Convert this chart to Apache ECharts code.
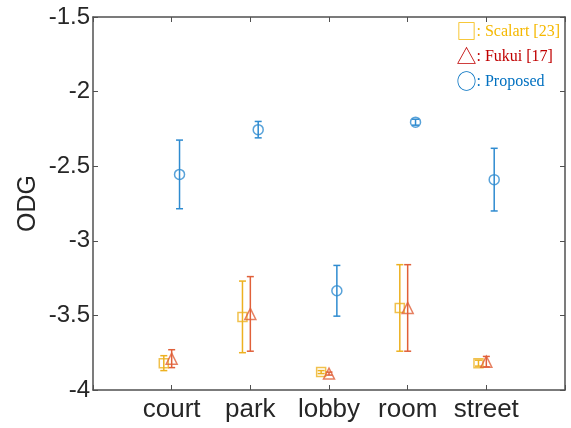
<!DOCTYPE html>
<html>
<head>
<meta charset="utf-8">
<script src="https://cdn.jsdelivr.net/npm/echarts@6/dist/echarts.min.js"></script>
<style>
  html, body { margin: 0; padding: 0; background: #fff; }
  #chart { width: 571px; height: 428px; }
</style>
</head>
<body>
<div id="chart"></div>
<script>
// scenes on the x axis
const scenes = ['court', 'park', 'lobby', 'room', 'street'];
const yTicks = [-4, -3.5, -3, -2.5, -2, -1.5];

// mean ODG and half-width of the error bar, per method
const scalartMean = [-3.82, -3.51, -3.88, -3.45, -3.82];
const scalartErr  = [0.05, 0.24, 0.01, 0.29, 0.02];
const fukuiMean   = [-3.79, -3.49, -3.89, -3.45, -3.81];
const fukuiErr    = [0.06, 0.25, 0.01, 0.29, 0.035];
const propMean    = [-2.555, -2.255, -3.335, -2.205, -2.59];
const propErr     = [0.23, 0.055, 0.17, 0.02, 0.21];

const yellow = '#EDB120';
const red = '#E0603A';
const blue = '#2E8BD0';

// 把每个方法拆成 散点 + 误差棒
const methods = [
    { name: 'Scalart', mean: scalartMean, err: scalartErr, off: -0.1, color: yellow, symbol: 'rect', size: 9 },
    { name: 'Fukui', mean: fukuiMean, err: fukuiErr, off: 0, color: red, symbol: 'triangle', size: 11 },
    { name: 'Proposed', mean: propMean, err: propErr, off: 0.1, color: blue, symbol: 'circle', size: 10 }
];

const series = [];
methods.forEach(m => {
    const bars = m.mean.map((v, i) => [i + 1 + m.off, v - m.err[i], v + m.err[i]]);
    series.push({
        name: m.name + '-err',
        type: 'custom',
        data: bars,
        renderItem: function (params, api) {
            const x = api.value(0);
            const lo = api.coord([x, api.value(1)]);
            const hi = api.coord([x, api.value(2)]);
            const cw = 3.5;
            const style = { stroke: m.color, lineWidth: 1.5, fill: 'none' };
            return {
                type: 'group',
                children: [
                    { type: 'line', shape: { x1: lo[0], y1: lo[1], x2: hi[0], y2: hi[1] }, style: style },
                    { type: 'line', shape: { x1: lo[0] - cw, y1: lo[1], x2: lo[0] + cw, y2: lo[1] }, style: style },
                    { type: 'line', shape: { x1: hi[0] - cw, y1: hi[1], x2: hi[0] + cw, y2: hi[1] }, style: style }
                ]
            };
        },
        z: 2
    });
    series.push({
        name: m.name,
        type: 'scatter',
        data: m.mean.map((v, i) => [i + 1 + m.off, v]),
        symbol: m.symbol,
        symbolSize: m.size,
        itemStyle: { color: 'rgba(255,255,255,0)', borderColor: m.color, borderWidth: 1.5 },
        z: 3
    });
});

const axisCol = '#505050';
const labelCol = '#262626';

const option = {
    animation: false,
    backgroundColor: '#fff',
    grid: { left: 93, right: 6, top: 17, bottom: 38, containLabel: false, outerBoundsMode: 'none' },
    xAxis: [
        {
            type: 'value', min: 0, max: 6, interval: 1,
            axisLine: { show: true, onZero: false, lineStyle: { color: axisCol, width: 1.5 } },
            axisTick: { show: true, inside: true, length: 5, lineStyle: { color: axisCol } },
            splitLine: { show: false },
            axisLabel: {
                color: labelCol, fontFamily: 'Liberation Sans', fontSize: 26, margin: 7,
                formatter: v => scenes[v - 1] || ''
            }
        },
        {
            type: 'value', min: 0, max: 6, interval: 1, position: 'top',
            axisLine: { show: true, onZero: false, lineStyle: { color: axisCol, width: 1.5 } },
            axisTick: { show: true, inside: true, length: 5, lineStyle: { color: axisCol } },
            axisLabel: { show: false }, splitLine: { show: false }
        }
    ],
    yAxis: [
        {
            type: 'value', min: yTicks[0], max: yTicks[yTicks.length - 1], interval: 0.5,
            name: 'ODG', nameLocation: 'middle', nameGap: 52, nameMoveOverlap: false,
            nameTextStyle: { color: labelCol, fontFamily: 'Liberation Sans', fontSize: 25 },
            axisLine: { show: true, onZero: false, lineStyle: { color: axisCol, width: 1.5 } },
            axisTick: { show: true, inside: true, length: 5, lineStyle: { color: axisCol } },
            splitLine: { show: false },
            axisLabel: { color: labelCol, fontFamily: 'Liberation Sans', fontSize: 24, margin: 3 }
        },
        {
            type: 'value', min: yTicks[0], max: yTicks[yTicks.length - 1], interval: 0.5, position: 'right',
            axisLine: { show: true, onZero: false, lineStyle: { color: axisCol, width: 1.5 } },
            axisTick: { show: true, inside: true, length: 5, lineStyle: { color: axisCol } },
            axisLabel: { show: false }, splitLine: { show: false }
        }
    ],
    graphic: [
        {
            type: 'text', right: 11, top: 19,
            style: {
                text: '{s|□}{t|: Scalart [23]}\n{r|△}{u|: Fukui [17]}\n{c|○}{v|: Proposed}',
                lineHeight: 25,
                rich: {
                    s: { fill: '#F5B800', fontSize: 20, fontFamily: 'Noto Sans CJK SC', lineHeight: 25 },
                    t: { fill: '#F5B800', fontSize: 16, fontFamily: 'Liberation Serif', lineHeight: 25 },
                    r: { fill: '#C00000', fontSize: 20, fontFamily: 'Noto Sans CJK SC', lineHeight: 25 },
                    u: { fill: '#C00000', fontSize: 16, fontFamily: 'Liberation Serif', lineHeight: 25 },
                    c: { fill: '#0070C0', fontSize: 20, fontFamily: 'Noto Sans CJK SC', lineHeight: 25 },
                    v: { fill: '#0070C0', fontSize: 16, fontFamily: 'Liberation Serif', lineHeight: 25 }
                }
            }
        }
    ],
    series: series
};

const chart = echarts.init(document.getElementById('chart'), null, { renderer: 'canvas' });
chart.setOption(option);
</script>
</body>
</html>
